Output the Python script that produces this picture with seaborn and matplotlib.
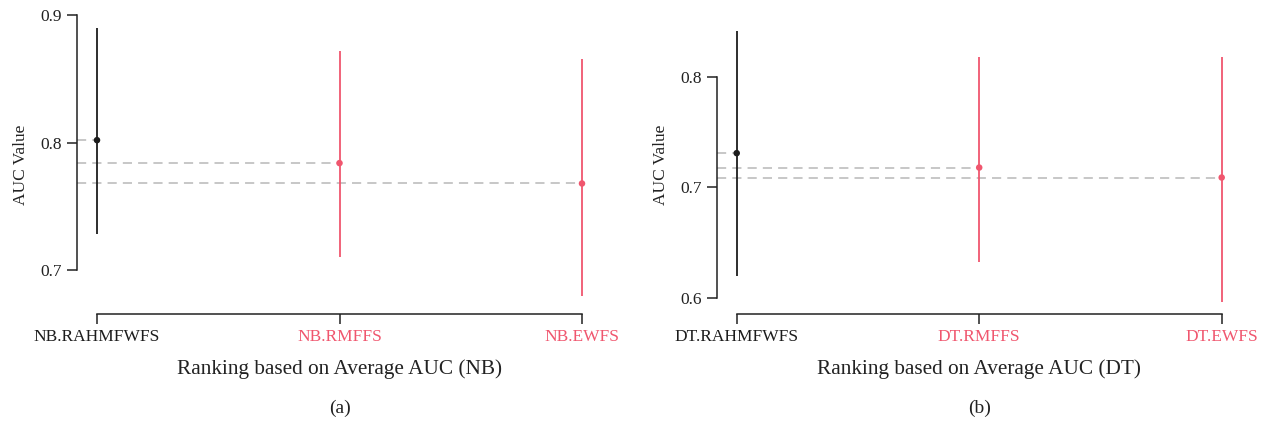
import matplotlib
matplotlib.use("Agg")
import matplotlib.pyplot as plt
import seaborn as sns
import pandas as pd

sns.set_theme(style="white")
plt.rcParams["font.family"] = ["Liberation Serif", "DejaVu Serif"]

# Naive Bayes panel
nb_methods = ["NB.RAHMFWFS", "NB.RMFFS", "NB.EWFS"]
nb_mean = [0.802, 0.784, 0.768]
nb_low = [0.728, 0.710, 0.680]
nb_high = [0.890, 0.872, 0.866]
nb_ticks = [0.7, 0.8, 0.9]

# Decision tree panel
dt_methods = ["DT.RAHMFWFS", "DT.RMFFS", "DT.EWFS"]
dt_mean = [0.731, 0.718, 0.709]
dt_low = [0.620, 0.633, 0.597]
dt_high = [0.841, 0.818, 0.818]
dt_ticks = [0.6, 0.7, 0.8]

BLACK = "#1c1c1c"
RED = "#f0566e"
GRID = "#b8b8b8"

W, H = 1269, 423
fig = plt.figure(figsize=(W / 100, H / 100), dpi=100)


def panel(rect, methods, mean, low, high, ticks, ylim, algo, tag):
    ax = fig.add_axes(rect)
    df = pd.DataFrame({"pos": range(len(methods)), "mean": mean,
                       "low": low, "high": high})
    colors = [BLACK] + [RED] * (len(methods) - 1)
    x0 = -0.0825
    ax.set_xlim(x0, len(methods) - 1 + 0.0825)
    ax.set_ylim(*ylim)
    # dashed reference lines from the axis to each mean
    ax.hlines(df["mean"], x0, df["pos"], colors=GRID, linestyles=(0, (6, 4)),
              linewidth=1.1, zorder=1)
    ax.vlines(df["pos"], df["low"], df["high"], colors=colors, linewidth=1.3,
              zorder=2)
    sns.scatterplot(data=df, x="pos", y="mean", hue="pos",
                    palette=colors, s=22, edgecolor="none", legend=False,
                    ax=ax, zorder=3)
    for s in ("top", "right"):
        ax.spines[s].set_visible(False)
    ax.spines["left"].set_bounds(ticks[0], ticks[-1])
    ax.spines["bottom"].set_bounds(0, len(methods) - 1)
    for s in ("left", "bottom"):
        ax.spines[s].set_color("#222222")
        ax.spines[s].set_linewidth(1.1)
    ax.set_yticks(ticks)
    ax.set_yticklabels([f"{t:.1f}" for t in ticks])
    ax.set_xticks(df["pos"])
    ax.set_xticklabels(methods)
    ax.tick_params(axis="both", direction="out", length=7, width=1.1,
                   color="#222222", labelsize=12.5, labelcolor="#222222",
                   left=True, bottom=True, pad=4)
    ax.tick_params(axis="x", pad=4)
    for lbl, c in zip(ax.get_xticklabels(), colors):
        lbl.set_color(c)
    ax.set_ylabel("AUC Value", fontsize=12.5, color="#222222", labelpad=8)
    ax.set_xlabel(f"Ranking based on Average AUC ({algo})", fontsize=15.3,
                  color="#222222", labelpad=10)
    ax.grid(False)
    ax.text(0.5, -0.285, tag, transform=ax.transAxes, ha="center", va="top",
            fontsize=14, color="#222222")
    return ax


top_px, bot_px = 15, 314
height = (bot_px - top_px) / H
bottom = (H - bot_px) / H
panel([77 / W, bottom, 525 / W, height], nb_methods, nb_mean, nb_low, nb_high,
      nb_ticks, (0.6656, 0.9002), "NB", "(a)")
panel([716.7 / W, bottom, 525 / W, height], dt_methods, dt_mean, dt_low,
      dt_high, dt_ticks, (0.5858, 0.8557), "DT", "(b)")

fig.savefig("out.png", dpi=100)
